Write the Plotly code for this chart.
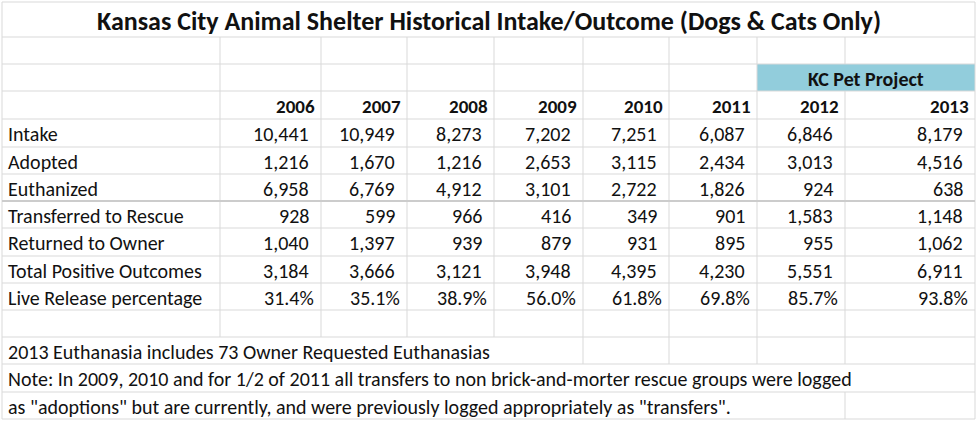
import plotly.graph_objects as go

# ---------------- data ----------------
title = "Kansas City Animal Shelter Historical Intake/Outcome (Dogs & Cats Only)"
banner = "KC Pet Project"
years = ["2006", "2007", "2008", "2009", "2010", "2011", "2012", "2013"]
row_labels = ["Intake", "Adopted", "Euthanized", "Transferred to Rescue",
              "Returned to Owner", "Total Positive Outcomes", "Live Release percentage"]
intake = [10441, 10949, 8273, 7202, 7251, 6087, 6846, 8179]
adopted = [1216, 1670, 1216, 2653, 3115, 2434, 3013, 4516]
euthanized = [6958, 6769, 4912, 3101, 2722, 1826, 924, 638]
transferred = [928, 599, 966, 416, 349, 901, 1583, 1148]
returned = [1040, 1397, 939, 879, 931, 895, 955, 1062]
total_positive = [3184, 3666, 3121, 3948, 4395, 4230, 5551, 6911]
live_release_pct = [31.4, 35.1, 38.9, 56.0, 61.8, 69.8, 85.7, 93.8]
notes = [
    "2013 Euthanasia includes 73 Owner Requested Euthanasias",
    "Note: In 2009, 2010 and for 1/2 of 2011 all transfers to non brick-and-morter rescue groups were logged",
    "as \"adoptions\" but are currently, and were previously logged appropriately as \"transfers\".",
]

# ---------------- layout geometry (sheet grid, pixels) ----------------
W, H = 979, 424
col_edges = [2, 220, 321, 407, 494, 583, 669, 757, 845, 975]
row_edges = [2, 37, 64, 91, 119, 147, 174, 201, 228, 256, 283, 310, 337, 364, 392, 419]
FONT = "Carlito, Calibri, Lato, sans-serif"
TXT = "#111111"
GRID = "#d9d9d9"
BODY = 20

numeric_rows = [intake, adopted, euthanized, transferred, returned, total_positive]

def mid(a, b):
    return (a + b) / 2 + 1

annotations = []
def add_text(x, y, text, anchor="left", size=BODY, bold=False, color=TXT):
    annotations.append(dict(
        x=x, y=y, xref="x", yref="y", text=("<b>%s</b>" % text) if bold else text,
        showarrow=False, xanchor=anchor, yanchor="middle",
        font=dict(family=FONT, size=size, color=color)))

# title
add_text((col_edges[0] + col_edges[-1]) / 2, mid(row_edges[0], row_edges[1]), title,
         anchor="center", size=26, bold=True)
# banner
add_text((col_edges[7] + col_edges[9]) / 2, mid(row_edges[2], row_edges[3]), banner,
         anchor="center", size=BODY, bold=True)
# year headers
for j, yr in enumerate(years):
    add_text(col_edges[j + 2] - 4, mid(row_edges[3], row_edges[4]), yr, anchor="right",
             size=19, bold=True)
# rows
for i, lab in enumerate(row_labels):
    ry = mid(row_edges[4 + i], row_edges[5 + i])
    add_text(col_edges[0] + 4, ry, lab)
    for j in range(len(years)):
        if i < len(numeric_rows):
            s = "{:,}".format(numeric_rows[i][j])
            add_text(col_edges[j + 2] - 10, ry, s, anchor="right")
        else:
            s = "{:.1f}%".format(live_release_pct[j])
            add_text(col_edges[j + 2] - 5, ry, s, anchor="right")
# notes
for k, n in enumerate(notes):
    add_text(col_edges[0] + 4, mid(row_edges[12 + k], row_edges[13 + k]), n)

# ---------------- grid lines ----------------
gx, gy = [], []
def seg(x0, y0, x1, y1):
    gx.extend([x0, x1, None]); gy.extend([y0, y1, None])

for r in row_edges:
    seg(col_edges[0], r, col_edges[-1], r)
for b in range(len(row_edges) - 1):
    y0, y1 = row_edges[b], row_edges[b + 1]
    if b == 0:
        cols = [0, 9]
    elif b == 2:
        cols = [0, 1, 2, 3, 4, 5, 6, 7, 9]
    elif b == 12:
        cols = [0, 5, 6, 7, 8, 9]
    elif b == 13:
        cols = [0, 9]
    elif b == 14:
        cols = [0, 8, 9]
    else:
        cols = list(range(10))
    for c in cols:
        seg(col_edges[c], y0, col_edges[c], y1)

fig = go.Figure()
fig.add_trace(go.Scatter(x=gx, y=gy, mode="lines", line=dict(color=GRID, width=1),
                         hoverinfo="skip", showlegend=False))
fig.add_trace(go.Scatter(x=[col_edges[0], col_edges[-1]], y=[row_edges[7], row_edges[7]],
                         mode="lines", line=dict(color="#cccccc", width=2),
                         hoverinfo="skip", showlegend=False))

fig.update_layout(
    width=W, height=H, margin=dict(l=0, r=0, t=0, b=0),
    paper_bgcolor="white", plot_bgcolor="white",
    xaxis=dict(range=[0, W], visible=False, fixedrange=True),
    yaxis=dict(range=[H, 0], visible=False, fixedrange=True),
    shapes=[dict(type="rect", xref="x", yref="y", x0=col_edges[7], x1=col_edges[9],
                 y0=row_edges[2], y1=row_edges[3], fillcolor="#92CDDC",
                 line=dict(width=0), layer="below")],
    annotations=annotations,
    showlegend=False,
)
fig.write_html("out.html", config={"displayModeBar": False},
               post_script="document.body.style.margin='0';document.body.style.overflow='hidden';")
